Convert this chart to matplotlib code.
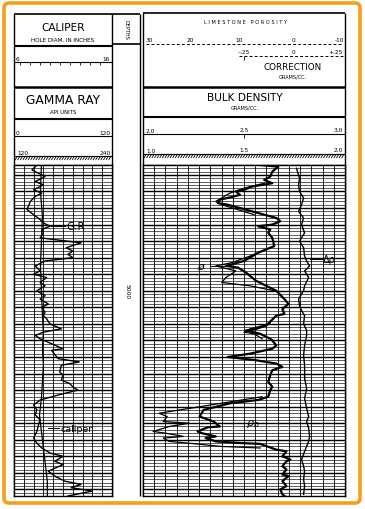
import numpy as np
import matplotlib
matplotlib.use("Agg")
import matplotlib.pyplot as plt
from matplotlib.patches import FancyBboxPatch
from matplotlib.collections import LineCollection
from matplotlib.ticker import MultipleLocator

plt.rcParams['font.family'] = ['DejaVu Sans']

# depth window of the log (ft)
top_depth = 4924
bottom_depth = 5124
depth_mark = 5000

# track 1: gamma ray (API) and caliper (inches)
gr_depth = [4924, 4927, 4931, 4934, 4936, 4939, 4941, 4943, 4946, 4951, 4954, 4957, 4959, 4961,
            4963, 4965, 4968, 4971, 4974, 4976, 4978, 4980, 4982, 4985, 4988, 4990, 4992, 4995,
            4997, 5000, 5003, 5005, 5008, 5010, 5013, 5015, 5017, 5020, 5023, 5025, 5027, 5029,
            5035, 5036, 5041, 5043, 5045, 5049, 5051, 5054, 5056, 5058, 5060, 5062, 5063, 5066,
            5069, 5072, 5075, 5078, 5081, 5085, 5089, 5092, 5095, 5098, 5100, 5103, 5105, 5109,
            5112, 5115, 5117, 5119, 5121, 5124]
gr_api = [28, 22, 38, 26, 36, 24, 34, 26, 20, 16, 24, 32, 36, 44,
          34, 36, 32, 82, 64, 72, 66, 72, 38, 26, 32, 24, 40, 32,
          38, 28, 38, 32, 42, 34, 38, 36, 40, 44, 58, 36, 26, 32,
          60, 46, 54, 80, 58, 56, 60, 58, 68, 72, 78, 62, 54, 32,
          24, 28, 26, 32, 30, 28, 24, 28, 34, 44, 60, 50, 60, 42,
          50, 62, 82, 70, 96, 66]

cal_depth = [4924, 4940, 4955, 4970, 4985, 5000, 5015, 5025, 5035, 5045, 5055, 5065, 5075,
             5085, 5095, 5105, 5115, 5124]
cal_inch = [8.8, 8.7, 8.9, 8.8, 8.7, 8.8, 8.9, 9.0, 8.9, 9.0, 8.9, 8.8, 8.6,
            8.8, 9.0, 9.2, 9.4, 9.4]

# track 2: bulk density (g/cc)
rhob_depth = [4924, 4925, 4928, 4931, 4933, 4935, 4937, 4939, 4940, 4942, 4943, 4945, 4947, 4948,
              4950, 4953, 4956, 4958, 4960, 4961, 4963, 4965, 4968, 4973, 4974, 4977, 4982, 4985,
              4986, 4989, 4994, 4997, 5000, 5005, 5008, 5011, 5014, 5015, 5021, 5023, 5024, 5026,
              5029, 5030, 5033, 5035, 5038, 5040, 5042, 5044, 5046, 5048, 5051, 5055, 5058, 5060,
              5064, 5066, 5068, 5072, 5076, 5079, 5082, 5082.5, 5085, 5086, 5088, 5089, 5091, 5092,
              5092.5, 5096, 5097, 5100, 5102, 5103, 5106, 5108, 5111, 5112, 5115, 5118, 5120, 5123,
              5124]
rhob = [2.58, 2.67, 2.64, 2.63, 2.60, 2.64, 2.54, 2.50, 2.46, 2.48, 2.45, 2.38, 2.37, 2.42,
        2.48, 2.57, 2.66, 2.68, 2.64, 2.57, 2.63, 2.62, 2.64, 2.65, 2.63, 2.57, 2.50, 2.41,
        2.47, 2.51, 2.56, 2.61, 2.66, 2.70, 2.72, 2.69, 2.70, 2.66, 2.61, 2.56, 2.51, 2.58,
        2.63, 2.64, 2.66, 2.64, 2.53, 2.42, 2.56, 2.66, 2.69, 2.64, 2.63, 2.62, 2.64, 2.63,
        2.62, 2.57, 2.43, 2.30, 2.28, 2.35, 2.38, 2.32, 2.27, 2.29, 2.36, 2.31, 2.36, 2.48,
        2.58, 2.66, 2.71, 2.69, 2.73, 2.71, 2.69, 2.71, 2.69, 2.72, 2.69, 2.71, 2.68, 2.69,
        2.70]

# the lighter trace where it leaves the main one
split_a_depth = [4935, 4938, 4941, 4946, 4948, 4951, 4954]
split_a_rho = [2.60, 2.50, 2.43, 2.36, 2.39, 2.47, 2.55]
split_b_depth = [4974, 4979, 4983, 4985, 4988, 4992, 4995, 4997, 5000]
split_b_rho = [2.63, 2.53, 2.44, 2.36, 2.46, 2.41, 2.39, 2.53, 2.65]
split_c_depth = [5020, 5023, 5025, 5026, 5029]
split_c_rho = [2.63, 2.53, 2.50, 2.55, 2.59]
split_d_depth = [5064, 5074, 5076, 5079, 5080, 5082, 5085, 5086, 5088, 5089, 5091, 5092.5,
                 5094, 5095]
split_d_rho = [2.59, 2.08, 2.12, 2.10, 2.23, 2.13, 2.05, 2.11, 2.20, 2.10, 2.13, 2.26,
               2.38, 2.58]

# density correction (g/cc)
drho_depth = [4926, 4932, 4936, 4940, 4944, 4948, 4952, 4956, 4960, 4965, 4970, 4974, 4979,
              4982, 4985, 4988, 4992, 4997, 5000, 5005, 5009, 5012, 5015, 5020, 5024, 5027,
              5033, 5039, 5045, 5053, 5059, 5065, 5071, 5076, 5079, 5083, 5088, 5091, 5097,
              5102, 5106, 5109, 5114, 5118, 5123]
drho = [0.01, 0.025, 0.02, 0.025, 0.045, 0.035, 0.02, 0.045, 0.035, 0.05, 0.025, 0.045, 0.05,
        0.06, 0.075, 0.05, 0.07, 0.05, 0.045, 0.02, 0.025, 0.035, 0.05, 0.045, 0.06, 0.06,
        0.05, 0.045, 0.05, 0.05, 0.06, 0.05, 0.06, 0.07, 0.06, 0.07, 0.075, 0.07, 0.05,
        0.035, 0.045, 0.05, 0.045, 0.05, 0.045]

W, H = 365, 510
fig = plt.figure(figsize=(W / 100, H / 100), dpi=100)
bg = fig.add_axes([0, 0, 1, 1])
bg.set_xlim(0, W)
bg.set_ylim(H, 0)
bg.axis('off')

T1 = (14, 112)
DC = (112, 140)
T2 = (143, 345)
CHART_TOP, CHART_BOT = 166, 497


def px_axes(x0, x1, y0, y1):
    return fig.add_axes([x0 / W, 1 - y1 / H, (x1 - x0) / W, (y1 - y0) / H])


def hline(y, x0, x1, lw=1.0, **kw):
    bg.plot([x0, x1], [y, y], color='k', lw=lw, solid_capstyle='butt', **kw)


def vline(x, y0, y1, lw=1.0):
    bg.plot([x, x], [y0, y1], color='k', lw=lw, solid_capstyle='butt')


def hatch(x0, x1, y):
    segs = [[(x, y + 4), (x + 2.5, y)] for x in np.arange(x0 + 1, x1 - 2, 2.6)]
    bg.add_collection(LineCollection(segs, colors='k', linewidths=0.6))


def small(x, y, s, ha='left', size=4.2):
    bg.text(x, y, s, ha=ha, va='bottom', fontsize=size)


# ---- header, track 1 ----
hline(15, T1[0], DC[1], 1.2)
hline(14, T2[0], T2[1], 1.2)
for x in (T1[0], T1[1], DC[1]):
    vline(x, 15, CHART_BOT, 1.0)
for x in T2:
    vline(x, 14, CHART_BOT, 1.0)

bg.text(63, 28, 'CALIPER', ha='center', va='center', fontsize=7.6)
bg.text(63, 40, 'HOLE DIAM. IN INCHES', ha='center', va='center', fontsize=4.1)
hline(47, T1[0], T1[1], 1.5)
small(16, 62, '6')
small(110, 62, '16', ha='right')
hline(63, T1[0], T1[1], 0.8)
bg.add_collection(LineCollection([[(x, 63), (x, 66)] for x in np.arange(20, 110, 10)],
                                 colors='k', linewidths=0.6))
hline(88, T1[0], T1[1], 1.8)
bg.text(63, 101, 'GAMMA RAY', ha='center', va='center', fontsize=8.8)
bg.text(63, 113, 'API UNITS', ha='center', va='center', fontsize=3.9)
hline(120, T1[0], T1[1], 1.5)
small(16, 136, '0')
small(111, 136, '120', ha='right')
hline(137, T1[0], T1[1], 0.8)
small(17, 156, '120')
small(111, 156, '240', ha='right')
hline(157, T1[0], T1[1], 0.8)
hatch(T1[0], T1[1], 157)
hline(CHART_TOP, T1[0], T1[1], 1.0)

# depth column header
hline(45, DC[0], DC[1], 1.2)
bg.text(126, 30, 'DEPTHS', ha='center', va='center', rotation=-90, fontsize=3.6)

# ---- header, track 2 ----
bg.text(246, 23, 'L I M E S T O N E   P O R O S I T Y', ha='center', va='center', fontsize=3.6)
bg.plot([146, 343], [44.5, 44.5], color='k', lw=0.7, ls=(0, (3, 2.2)))
small(145, 43, '30')
small(190, 43, '20', ha='center')
small(239, 43, '10', ha='center')
small(294, 43, '0', ha='center')
small(344, 43, '-10', ha='right')
bg.plot([239, 343], [57, 57], color='k', lw=0.7, ls=(0, (3, 2.2)))
vline(244, 57, 61, 0.6)
small(244, 55.5, '\u2013.25', ha='center')
small(294, 55.5, '0', ha='center')
small(343, 55.5, '+.25', ha='right')
bg.text(293, 68, 'CORRECTION', ha='center', va='center', fontsize=6.3)
bg.text(293, 77, 'GRAMS/CC.', ha='center', va='center', fontsize=3.6)
hline(88, T2[0], T2[1], 1.8)
bg.text(245, 98, 'BULK DENSITY', ha='center', va='center', fontsize=7.6)
bg.text(245, 108, 'GRAMS/CC.', ha='center', va='center', fontsize=3.6)
hline(118, T2[0], T2[1], 1.5)
small(146, 134, '2.0')
small(244, 133, '2.5', ha='center')
small(343, 133, '3.0', ha='right')
hline(135, T2[0], T2[1], 0.8)
vline(244, 135, 139, 0.6)
small(146, 154, '1.0')
small(244, 153, '1.5', ha='center')
small(343, 153, '2.0', ha='right')
hline(155, T2[0], T2[1], 0.8)
hatch(T2[0], T2[1], 155)
hline(CHART_TOP, T2[0], T2[1], 1.0)

# orange frame
bg.add_patch(FancyBboxPatch((4, 4), 356, 500, boxstyle='round,pad=0,rounding_size=5',
                            fill=False, ec='#f5a01a', lw=2.6))


def grid_track(ax, xmin, xmax, xticks):
    ax.set_xlim(xmin, xmax)
    ax.set_ylim(bottom_depth, top_depth)
    ax.set_xticks(xticks)
    ax.yaxis.set_major_locator(MultipleLocator(10))
    ax.yaxis.set_minor_locator(MultipleLocator(2))
    ax.xaxis.grid(True, color='k', lw=0.6)
    ax.yaxis.grid(True, which='major', color='k', lw=1.0)
    ax.yaxis.grid(True, which='minor', color='k', lw=0.45)
    ax.tick_params(which='both', length=0, labelbottom=False, labelleft=False)
    for sp in ax.spines.values():
        sp.set_linewidth(1.0)
    ax.set_facecolor('white')


# ---- track 1 ----
ax1 = px_axes(T1[0], T1[1], CHART_TOP, CHART_BOT)
grid_track(ax1, 0, 120, np.arange(0, 121, 12))
ax1.plot(gr_api, gr_depth, color='k', lw=1.0)
ax1.plot([45, 63], [4961, 4961], color='k', lw=0.7)
ax1.text(64, 4961, 'G.R', fontsize=7.5, va='center', ha='left')

cal = ax1.twiny()
cal.set_xlim(6, 16)
cal.axis('off')
cal.plot(cal_inch, cal_depth, color='k', lw=0.9)
cal.plot([9.5, 10.6], [5083, 5083], color='k', lw=0.7)
cal.text(10.7, 5083, 'caliper', fontsize=6.8, va='center', ha='left')

# ---- depth column ----
axd = px_axes(DC[0], DC[1], CHART_TOP, CHART_BOT)
axd.set_xlim(0, 1)
axd.set_ylim(bottom_depth, top_depth)
axd.axis('off')
axd.text(0.55, depth_mark, str(depth_mark), rotation=-90, ha='center', va='center', fontsize=4.3)

# ---- track 2 ----
ax2 = px_axes(T2[0], T2[1], CHART_TOP, CHART_BOT)
grid_track(ax2, 2.0, 3.0, np.linspace(2.0, 3.0, 19))
ax2.plot(rhob, rhob_depth, color='k', lw=1.6)
for d, r in ((split_a_depth, split_a_rho), (split_b_depth, split_b_rho),
             (split_c_depth, split_c_rho), (split_d_depth, split_d_rho)):
    ax2.plot(r, d, color='k', lw=0.9)
ax2.plot([2.33, 2.40], [4985, 4985], color='k', lw=0.7)
ax2.text(2.30, 4985, '\u00f8', fontsize=8, va='center', ha='right', style='italic')
ax2.text(2.51, 5080, r'$\rho_b$', fontsize=8, va='center', ha='left')

cor = ax2.twiny()
cor.set_xlim(-0.75, 0.25)
cor.axis('off')
cor.plot(drho, drho_depth, color='k', lw=1.0)
cor.plot([0.075, 0.135], [4981, 4981], color='k', lw=0.7)
cor.text(0.14, 4981, '\u0394\u03c1', fontsize=7, va='center', ha='left')

fig.savefig('out.png', dpi=100)
